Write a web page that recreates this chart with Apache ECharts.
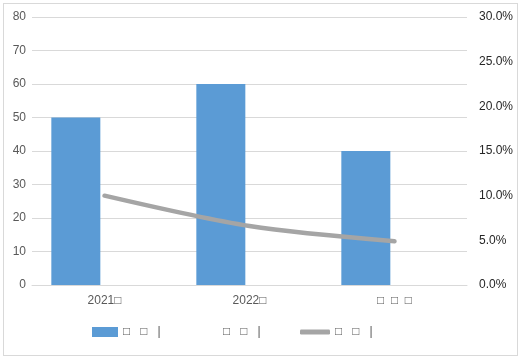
<!DOCTYPE html>
<html><head><meta charset="utf-8">
<script src="https://cdn.jsdelivr.net/npm/echarts@6/dist/echarts.min.js"></script>
<style>
html,body{margin:0;padding:0;background:#fff;}
#frame{position:absolute;left:3px;top:3px;width:515px;height:353px;border:1px solid #d9d9d9;box-sizing:border-box;}
#c{position:absolute;left:0;top:0;width:526px;height:362px;}
</style></head><body>
<div id="frame"></div>
<div id="c"></div>
<script>
const categories = ['2021□', '2022□', '□  □  □'];
const seriesNames = ['□   □   |', '□   □   | ', '□   □   |  '];
const barValues = [50, 60, 40];
const barValues2 = [0, 0, 0];
const rateValues = [0.100, 0.066, 0.049];
const leftTicks = {min: 0, max: 80, interval: 10};
const rightTicks = {min: 0, max: 0.3, interval: 0.05};

const FONT = '"Liberation Sans Narrow", "Liberation Sans", sans-serif';
const legendText = {color: '#595959', fontSize: 12, fontFamily: FONT};
const chart = echarts.init(document.getElementById('c'), null, {renderer: 'canvas'});
chart.setOption({
  animation: false,
  backgroundColor: 'transparent',
  grid: {left: 32, right: 59, top: 17, bottom: 77},
  legend: [
    {top: 326, left: 92, padding: 0, itemWidth: 26, itemHeight: 10, textStyle: legendText,
     data: [{name: seriesNames[0], icon: 'rect'}]},
    {top: 326, left: 192, padding: 0, itemWidth: 26, itemHeight: 10, textStyle: legendText,
     data: [{name: seriesNames[1], icon: 'rect', itemStyle: {color: 'rgba(0,0,0,0)'}}]},
    {top: 326, left: 300, padding: 0, itemWidth: 30, itemHeight: 5, textStyle: legendText,
     data: [{name: seriesNames[2], icon: 'roundRect', itemStyle: {color: '#A5A5A5'}}]}
  ],
  xAxis: {
    type: 'category', data: categories,
    axisLine: {lineStyle: {color: '#d9d9d9'}},
    axisTick: {show: false},
    axisLabel: {color: '#595959', fontSize: 12, fontFamily: FONT, margin: 10}
  },
  yAxis: [
    {type: 'value', min: leftTicks.min, max: leftTicks.max, interval: leftTicks.interval,
     axisLine: {show: false}, axisTick: {show: false},
     splitLine: {lineStyle: {color: '#d9d9d9'}},
     axisLabel: {color: '#595959', fontSize: 12, fontFamily: FONT, margin: 6}},
    {type: 'value', min: rightTicks.min, max: rightTicks.max, interval: rightTicks.interval,
     axisLine: {show: false}, axisTick: {show: false}, splitLine: {show: false},
     axisLabel: {color: '#262626', fontSize: 12, fontFamily: FONT, margin: 12,
       formatter: v => (v * 100).toFixed(1) + '%'}}
  ],
  series: [
    {name: seriesNames[0], type: 'bar', data: barValues, barWidth: 49, barGap: '17%',
     itemStyle: {color: '#5B9BD5'}},
    {name: seriesNames[1], type: 'bar', data: barValues2, barWidth: 49,
     itemStyle: {color: 'rgba(0,0,0,0)'}},
    {name: seriesNames[2], type: 'line', yAxisIndex: 1, data: rateValues, smooth: 0.3,
     showSymbol: false, symbol: 'none',
     lineStyle: {color: '#A5A5A5', width: 4.5, cap: 'round'}, itemStyle: {color: '#A5A5A5'}}
  ]
});
</script>
</body></html>
